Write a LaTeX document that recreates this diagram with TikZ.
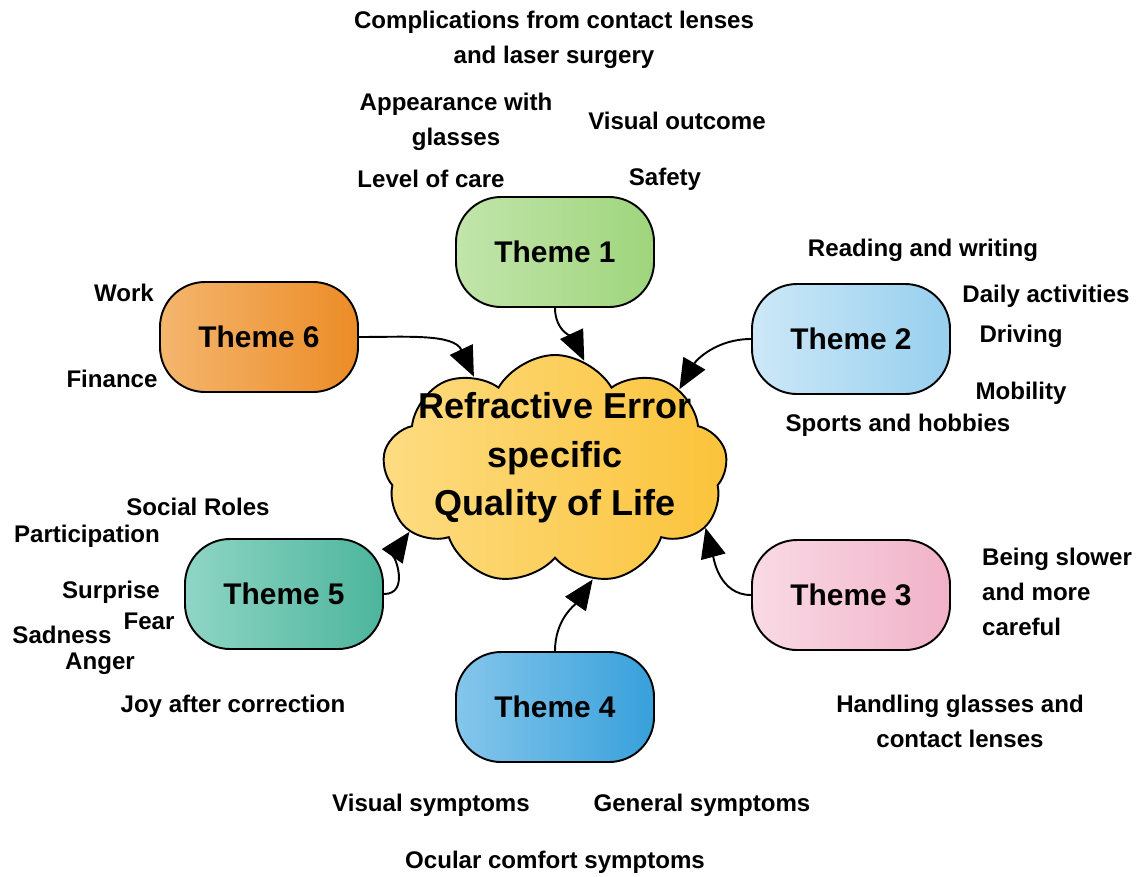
\documentclass[tikz,border=0pt]{standalone}
\usepackage{fontspec}
\setmainfont{Liberation Sans}
\usepackage{tikz}
\usetikzlibrary{arrows.meta,shapes.symbols,positioning}

\definecolor{greenL}{HTML}{C2E5AB}
\definecolor{greenD}{HTML}{9FD57C}
\definecolor{skyL}{HTML}{CDE8F8}
\definecolor{skyD}{HTML}{97CFEE}
\definecolor{pinkL}{HTML}{F9DAE5}
\definecolor{pinkD}{HTML}{F1B2C8}
\definecolor{blueL}{HTML}{85C6EB}
\definecolor{blueD}{HTML}{38A0DB}
\definecolor{tealL}{HTML}{8FD5C5}
\definecolor{tealD}{HTML}{4DB59C}
\definecolor{orangeL}{HTML}{F4B66E}
\definecolor{orangeD}{HTML}{EC8C27}
\definecolor{cloudL}{HTML}{FDDC82}
\definecolor{cloudD}{HTML}{FBC33A}

\begin{document}
\begin{tikzpicture}[
  theme/.style={draw=black, line width=1.1pt, rounded corners=0.9cm,
    minimum width=3.96cm, minimum height=2.2cm,
    font=\fontsize{17}{20}\selectfont\bfseries},
  topic/.style={font=\fontsize{13.7}{20}\selectfont\bfseries, align=center, inner sep=1pt},
  link/.style={line width=1.1pt, arrows={-Triangle[length=6mm, width=5mm]}}
]
\useasboundingbox (0,0) rectangle (22.76,-17.52);

%Central cloud
\node[cloud, cloud puffs=9, cloud puff arc=120, aspect=1.5, draw=black, line width=1.1pt,
  left color=cloudL, right color=cloudD, minimum width=6.9cm, minimum height=4.6cm, inner sep=0pt,
  label={[font=\fontsize{20.5}{27.6}\selectfont\bfseries, align=center, yshift=0.24cm]center:Refractive Error\\specific\\Quality of Life}]
  (qol) at (11.10,-9.40) {};

%Themes
\node[theme, left color=greenL, right color=greenD] (t1) at (11.10,-5.04) {Theme 1};
\node[theme, left color=skyL, right color=skyD] (t2) at (17.02,-6.78) {Theme 2};
\node[theme, left color=pinkL, right color=pinkD] (t3) at (17.02,-11.90) {Theme 3};
\node[theme, left color=blueL, right color=blueD] (t4) at (11.10,-14.14) {Theme 4};
\node[theme, left color=tealL, right color=tealD] (t5) at (5.68,-11.88) {Theme 5};
\node[theme, left color=orangeL, right color=orangeD] (t6) at (5.18,-6.74) {Theme 6};

%Links to the cloud
\draw[link] (t1.south) to[out=-90, in=115] (qol.75);
\draw[link] (t2.west) to[out=180, in=60] (qol.33);
\draw[link] (t3.west) to[out=180, in=-75] (qol.339);
\draw[link] (t4.north) to[out=90, in=-125] (qol.289);
\draw[link] (t5.east) to[out=0, in=-125] (qol.203);
\draw[link] (t6.east) to[out=0, in=115] (qol.131);

%Theme 1 topics
\node[topic] (compl) at (11.08,-0.80) {Complications from contact lenses\\and laser surgery};
\node[topic] (appear) at (9.12,-2.44) {Appearance with\\glasses};
\node[topic] (visout) at (13.54,-2.42) {Visual outcome};
\node[topic] (care) at (8.62,-3.58) {Level of care};
\node[topic] (safety) at (13.30,-3.58) {Safety};

%Theme 2 topics
\node[topic] (reading) at (18.46,-5.00) {Reading and writing};
\node[topic] (daily) at (20.92,-5.92) {Daily activities};
\node[topic] (driving) at (20.42,-6.72) {Driving};
\node[topic] (mobility) at (20.42,-7.86) {Mobility};
\node[topic] (sports) at (17.96,-8.50) {Sports and hobbies};

%Theme 3 topics
\node[topic, align=left, anchor=west] (slower) at (19.60,-11.84) {Being slower\\and more\\careful};
\node[topic] (handling) at (19.20,-14.42) {Handling glasses and\\contact lenses};

%Theme 4 topics
\node[topic] (vissym) at (8.62,-16.10) {Visual symptoms};
\node[topic] (gensym) at (14.04,-16.10) {General symptoms};
\node[topic] (ocular) at (11.10,-17.24) {Ocular comfort symptoms};

%Theme 5 topics
\node[topic] (social) at (3.96,-10.14) {Social Roles};
\node[topic] (particip) at (1.74,-10.72) {Participation};
\node[topic] (surprise) at (2.22,-11.84) {Surprise};
\node[topic] (fear) at (2.98,-12.42) {Fear};
\node[topic] (sadness) at (1.24,-12.70) {Sadness};
\node[topic] (anger) at (2.00,-13.28) {Anger};
\node[topic] (joy) at (4.66,-14.12) {Joy after correction};

%Theme 6 topics
\node[topic] (work) at (2.48,-5.86) {Work};
\node[topic] (finance) at (2.24,-7.58) {Finance};
\end{tikzpicture}
\end{document}
